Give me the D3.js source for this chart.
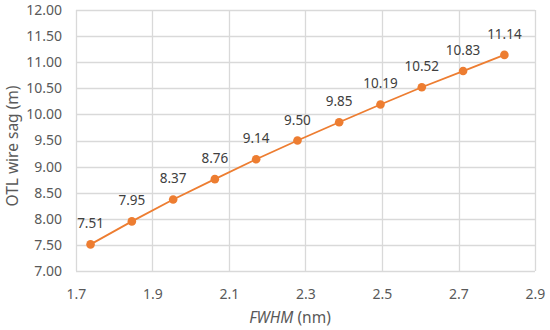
<!DOCTYPE html>
<html>
<head>
<meta charset="utf-8">
<script src="https://cdn.jsdelivr.net/npm/d3@7"></script>
<style>
  body { margin: 0; background: #fff; }
  text { font-family: "Noto Sans", sans-serif; fill: #595959; }
</style>
</head>
<body>
<div id="chart"></div>
<script>
// data
var fwhm = [1.738, 1.846, 1.954, 2.063, 2.171, 2.279, 2.388, 2.496, 2.604, 2.712, 2.820];
var sag = [7.51, 7.95, 8.37, 8.76, 9.14, 9.50, 9.85, 10.19, 10.52, 10.83, 11.14];
var xTicks = [1.7, 1.9, 2.1, 2.3, 2.5, 2.7, 2.9];
var yTicks = [7.0, 7.5, 8.0, 8.5, 9.0, 9.5, 10.0, 10.5, 11.0, 11.5, 12.0];

var W = 550, H = 330;
var m = {top: 10, right: 15, bottom: 59, left: 76}
    , w = W - m.left - m.right
    , h = H - m.top - m.bottom;

var data = fwhm.map(function(d, i) { return {x: d, y: sag[i]}; });

var svg = d3.select("#chart").append("svg")
    .attr("width", W)
    .attr("height", H);

var g = svg.append("g")
    .attr("transform", "translate(" + m.left + "," + m.top + ")");

var x = d3.scaleLinear().domain([1.7, 2.9]).range([0, w]);
var y = d3.scaleLinear().domain([7, 12]).range([h, 0]);

//gridlines
g.append("g").selectAll("line.gx")
    .data(xTicks)
    .enter().append("line")
    .attr("x1", function(d) { return Math.round(x(d)) + 0.5; })
    .attr("x2", function(d) { return Math.round(x(d)) + 0.5; })
    .attr("y1", 0).attr("y2", h)
    .attr("stroke", "#d9d9d9").attr("stroke-width", 1.3);

g.append("g").selectAll("line.gy")
    .data(yTicks)
    .enter().append("line")
    .attr("y1", function(d) { return Math.round(y(d)) + 0.5; })
    .attr("y2", function(d) { return Math.round(y(d)) + 0.5; })
    .attr("x1", 0).attr("x2", w)
    .attr("stroke", "#d9d9d9").attr("stroke-width", 1.3);

//axes
var xAxis = d3.axisBottom(x).tickValues(xTicks).tickSize(0).tickPadding(18)
    .tickFormat(d3.format(".1f"));
var yAxis = d3.axisLeft(y).tickValues(yTicks).tickSize(0).tickPadding(14)
    .tickFormat(d3.format(".2f"));

g.append("g")
    .attr("transform", "translate(0," + h + ")")
    .call(xAxis)
    .call(function(a) { a.select(".domain").remove(); })
    .selectAll("text").style("font-size", "14px").attr("fill", "#595959");

g.append("g")
    .call(yAxis)
    .call(function(a) { a.select(".domain").remove(); })
    .selectAll("text").style("font-size", "14px").attr("fill", "#595959");

//line + markers
var line = d3.line()
    .x(function(d) { return x(d.x); })
    .y(function(d) { return y(d.y); });

g.append("path")
    .datum(data)
    .attr("d", line)
    .attr("fill", "none")
    .attr("stroke", "#ed7d31")
    .attr("stroke-width", 1.8);

g.selectAll(".dot")
    .data(data)
    .enter().append("circle")
    .attr("class", "dot")
    .attr("cx", function(d) { return x(d.x); })
    .attr("cy", function(d) { return y(d.y); })
    .attr("r", 4.3)
    .attr("fill", "#ed7d31");

//data labels
g.selectAll(".lbl")
    .data(data)
    .enter().append("text")
    .attr("class", "lbl")
    .attr("text-anchor", "middle")
    .attr("x", function(d) { return x(d.x); })
    .attr("y", function(d) { return y(d.y) - 16; })
    .style("font-size", "13.5px")
    .style("fill", "#404040")
    .text(function(d) { return d3.format(".2f")(d.y); });

// axis titles
var xt = svg.append("text")
    .attr("x", 290)
    .attr("y", H - 7)
    .attr("text-anchor", "middle")
    .style("font-size", "15.5px");
xt.append("tspan").style("font-style", "italic").text("FWHM");
xt.append("tspan").text(" (nm)");

svg.append("text")
    .attr("transform", "rotate(-90)")
    .attr("x", -146)
    .attr("y", 18)
    .attr("text-anchor", "middle")
    .style("font-size", "15.5px")
    .text("OTL wire sag (m)");
</script>
</body>
</html>
